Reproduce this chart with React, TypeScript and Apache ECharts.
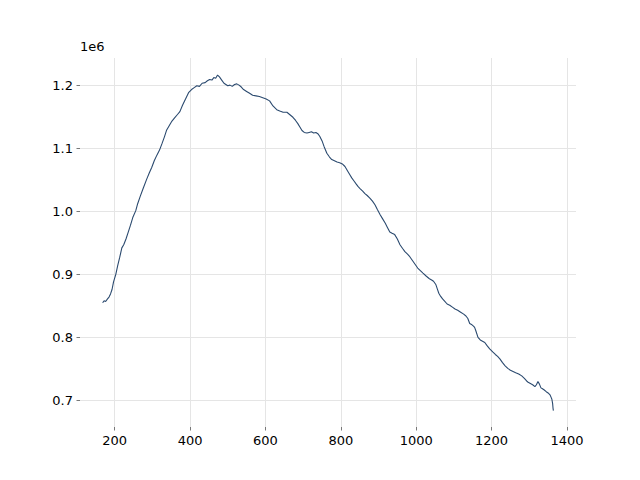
import React, { useEffect, useRef } from "react";
import * as echarts from "echarts";

const xValues = [168, 172, 176, 181, 185, 189, 193, 197, 203, 208, 213, 219, 224, 230, 236, 242, 248, 256, 261, 268, 276, 285, 292, 298, 305, 312, 319, 326, 332, 338, 345, 352, 359, 366, 373, 380, 388, 396, 404, 411, 418, 425, 432, 440, 446, 452, 458, 463, 468, 473, 478, 484, 490, 495, 500, 506, 512, 518, 524, 530, 536, 542, 550, 558, 566, 575, 584, 593, 602, 611, 620, 630, 638, 647, 657, 665, 673, 680, 686, 691, 697, 703, 710, 716, 722, 728, 734, 739, 744, 750, 756, 763, 770, 776, 783, 790, 797, 804, 811, 818, 824, 829, 835, 841, 846, 851, 858, 864, 870, 877, 884, 891, 897, 904, 911, 918, 924, 930, 936, 943, 950, 957, 964, 970, 977, 983, 990, 997, 1004, 1011, 1018, 1027, 1035, 1041, 1046, 1052, 1056, 1060, 1065, 1070, 1076, 1082, 1089, 1096, 1103, 1110, 1118, 1126, 1132, 1137, 1142, 1148, 1152, 1155, 1158, 1164, 1170, 1176, 1182, 1188, 1195, 1203, 1210, 1216, 1222, 1229, 1236, 1243, 1250, 1257, 1264, 1272, 1280, 1287, 1293, 1297, 1303, 1309, 1315, 1319, 1323, 1327, 1331, 1334, 1339, 1345, 1350, 1355, 1358, 1360, 1362, 1363, 1364];

const yThousands = [855, 858, 857, 861, 864, 869, 876, 888, 900, 914, 926, 942, 947, 956, 967, 978, 990, 1001, 1012, 1024, 1037, 1051, 1061, 1069, 1080, 1089, 1097, 1108, 1118, 1129, 1136, 1143, 1148, 1153, 1158, 1168, 1178, 1188, 1193, 1196, 1199, 1198, 1203, 1204, 1207, 1209, 1208, 1212, 1211, 1216, 1213, 1208, 1203, 1201, 1199, 1200, 1198, 1201, 1202, 1200, 1197, 1193, 1190, 1187, 1184, 1183, 1182, 1180, 1178, 1175, 1167, 1161, 1159, 1157, 1157, 1153, 1149, 1144, 1139, 1134, 1128, 1125, 1124, 1125, 1126, 1124, 1125, 1123, 1119, 1112, 1102, 1092, 1086, 1082, 1080, 1078, 1077, 1075, 1071, 1064, 1058, 1053, 1048, 1043, 1039, 1036, 1032, 1028, 1025, 1021, 1016, 1010, 1003, 995, 988, 981, 974, 967, 965, 963, 956, 947, 941, 936, 932, 928, 922, 916, 910, 906, 902, 897, 893, 891, 889, 884, 877, 870, 865, 861, 857, 853, 851, 848, 845, 843, 840, 837, 834, 830, 822, 820, 818, 816, 811, 800, 796, 794, 792, 787, 782, 777, 773, 770, 766, 760, 755, 751, 748, 746, 744, 742, 739, 735, 731, 729, 727, 725, 722, 725, 730, 726, 720, 719, 717, 714, 712, 709, 705, 702, 695, 688, 684];

const offsetLabel = "1e6";

export default function App() {
  const ref = useRef<HTMLDivElement>(null);
  useEffect(() => {
    if (!ref.current) return;
    const chart = echarts.init(ref.current, undefined, { renderer: "svg" });
    const data = xValues.map((x, i) => [x, yThousands[i] * 1000]);
    const font = "DejaVu Sans";
    chart.setOption({
      animation: false,
      backgroundColor: "#ffffff",
      grid: { left: 80, right: 64, top: 58, bottom: 53, containLabel: false },
      xAxis: {
        type: "value",
        min: 108,
        max: 1424,
        splitNumber: 7,
        axisLine: { show: false },
        axisTick: { show: true, length: 3.5, lineStyle: { color: "#555555", width: 0.8 } },
        axisLabel: {
          color: "#000000",
          fontFamily: font,
          fontSize: 13,
          margin: 7,
          showMinLabel: false,
          showMaxLabel: false,
          formatter: (v: number) => String(Math.round(v)),
        },
        splitLine: { show: true, showMinLine: false, showMaxLine: false, lineStyle: { color: "#e5e5e5", width: 1 } },
      },
      yAxis: {
        type: "value",
        min: 658000,
        max: 1243000,
        splitNumber: 6,
        axisLine: { show: false },
        axisTick: { show: true, length: 3.5, lineStyle: { color: "#555555", width: 0.8 } },
        axisLabel: {
          color: "#000000",
          fontFamily: font,
          fontSize: 13,
          margin: 7,
          showMinLabel: false,
          showMaxLabel: false,
          formatter: (v: number) => (v / 1e6).toFixed(1),
        },
        splitLine: { show: true, showMinLine: false, showMaxLine: false, lineStyle: { color: "#e5e5e5", width: 1 } },
      },
      graphic: [
        {
          type: "text",
          left: 80,
          top: 40,
          style: { text: offsetLabel, fill: "#000000", font: `13px ${font}` },
        },
      ],
      series: [
        {
          type: "line",
          data,
          showSymbol: false,
          symbol: "none",
          lineStyle: { color: "#2b4a6f", width: 1.1 },
        },
      ],
    });
    return () => chart.dispose();
  }, []);
  return <div ref={ref} style={{ width: 640, height: 480, position: "absolute", left: 0, top: 0 }} />;
}
